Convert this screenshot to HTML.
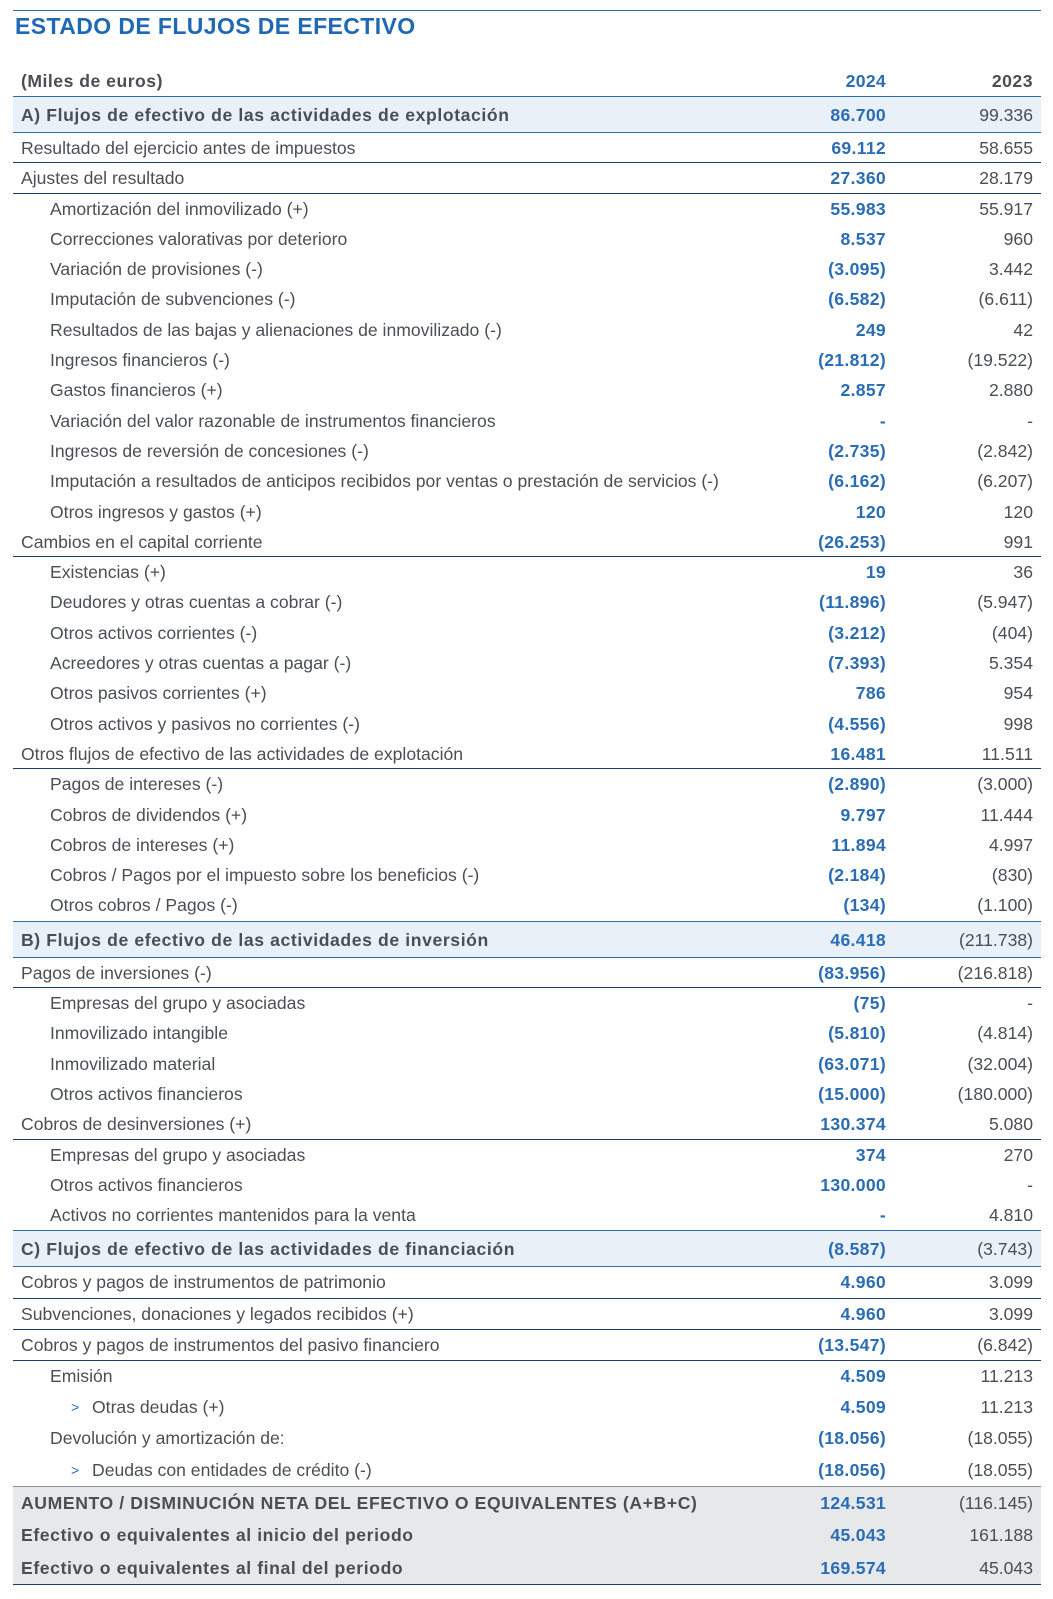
<!DOCTYPE html>
<html><head><meta charset="utf-8"><style>
body{margin:0;width:1053px;height:1599px;background:#fff;font-family:"Liberation Sans",sans-serif;color:#4a4f55;overflow:hidden;position:relative}
.top{position:absolute;left:13px;top:10px;width:1028px;border-top:1px solid #2a6db5}
h1{position:absolute;left:15px;top:13px;margin:0;font-size:23px;font-weight:bold;color:#1f68b3;letter-spacing:0.4px}
.tbl{position:absolute;left:13px;top:63px;width:1028px}
.r{position:relative;height:30.3px;font-size:17.6px;line-height:30.3px;box-sizing:border-box}
.r.c{height:31.2px;line-height:31.2px}
.r .l{position:absolute;left:8px;white-space:nowrap}
.r .a{position:absolute;right:155px;font-weight:bold;color:#2a6db5;letter-spacing:0.3px}
.r .b{position:absolute;right:8px;color:#4a4f55}
.h{height:33px;line-height:36px;font-weight:bold;letter-spacing:0.5px}
.h .b{font-weight:bold}
.s{height:37px;line-height:36px;background:#e9f0f8;border-top:1px solid #2a6db5;border-bottom:1px solid #2a6db5;font-weight:bold}
.s .l,.g .l{letter-spacing:0.6px}
.bb{border-bottom:1px solid #1f3a70}
.i1 .l{left:37px}
.i2 .l{left:79px}
.i2 .arr{position:absolute;left:58px;color:#2a6db5;font-size:14px}
.r.g{height:33px;line-height:33px;background:#e6e8ea;font-weight:bold}
.gt{border-top:1px solid #8a8f95}
.gb{border-bottom:1px solid #1f3a70}
</style></head><body>
<div class="top"></div>
<h1>ESTADO DE FLUJOS DE EFECTIVO</h1>
<div class="tbl">
<div class="r h"><span class="l">(Miles de euros)</span><span class="a">2024</span><span class="b">2023</span></div>
<div class="r s"><span class="l">A) Flujos de efectivo de las actividades de explotación</span><span class="a">86.700</span><span class="b" style="font-weight:normal">99.336</span></div>
<div class="r bb"><span class="l">Resultado del ejercicio antes de impuestos</span><span class="a">69.112</span><span class="b">58.655</span></div>
<div class="r bb"><span class="l">Ajustes del resultado</span><span class="a">27.360</span><span class="b">28.179</span></div>
<div class="r i1"><span class="l">Amortización del inmovilizado (+)</span><span class="a">55.983</span><span class="b">55.917</span></div>
<div class="r i1"><span class="l">Correcciones valorativas por deterioro</span><span class="a">8.537</span><span class="b">960</span></div>
<div class="r i1"><span class="l">Variación de provisiones (-)</span><span class="a">(3.095)</span><span class="b">3.442</span></div>
<div class="r i1"><span class="l">Imputación de subvenciones (-)</span><span class="a">(6.582)</span><span class="b">(6.611)</span></div>
<div class="r i1"><span class="l">Resultados de las bajas y alienaciones de inmovilizado (-)</span><span class="a">249</span><span class="b">42</span></div>
<div class="r i1"><span class="l">Ingresos financieros (-)</span><span class="a">(21.812)</span><span class="b">(19.522)</span></div>
<div class="r i1"><span class="l">Gastos financieros (+)</span><span class="a">2.857</span><span class="b">2.880</span></div>
<div class="r i1"><span class="l">Variación del valor razonable de instrumentos financieros</span><span class="a">-</span><span class="b">-</span></div>
<div class="r i1"><span class="l">Ingresos de reversión de concesiones (-)</span><span class="a">(2.735)</span><span class="b">(2.842)</span></div>
<div class="r i1"><span class="l">Imputación a resultados de anticipos recibidos por ventas o prestación de servicios (-)</span><span class="a">(6.162)</span><span class="b">(6.207)</span></div>
<div class="r i1"><span class="l">Otros ingresos y gastos (+)</span><span class="a">120</span><span class="b">120</span></div>
<div class="r bb"><span class="l">Cambios en el capital corriente</span><span class="a">(26.253)</span><span class="b">991</span></div>
<div class="r i1"><span class="l">Existencias (+)</span><span class="a">19</span><span class="b">36</span></div>
<div class="r i1"><span class="l">Deudores y otras cuentas a cobrar (-)</span><span class="a">(11.896)</span><span class="b">(5.947)</span></div>
<div class="r i1"><span class="l">Otros activos corrientes (-)</span><span class="a">(3.212)</span><span class="b">(404)</span></div>
<div class="r i1"><span class="l">Acreedores y otras cuentas a pagar (-)</span><span class="a">(7.393)</span><span class="b">5.354</span></div>
<div class="r i1"><span class="l">Otros pasivos corrientes (+)</span><span class="a">786</span><span class="b">954</span></div>
<div class="r i1"><span class="l">Otros activos y pasivos no corrientes (-)</span><span class="a">(4.556)</span><span class="b">998</span></div>
<div class="r bb"><span class="l">Otros flujos de efectivo de las actividades de explotación</span><span class="a">16.481</span><span class="b">11.511</span></div>
<div class="r i1"><span class="l">Pagos de intereses (-)</span><span class="a">(2.890)</span><span class="b">(3.000)</span></div>
<div class="r i1"><span class="l">Cobros de dividendos (+)</span><span class="a">9.797</span><span class="b">11.444</span></div>
<div class="r i1"><span class="l">Cobros de intereses (+)</span><span class="a">11.894</span><span class="b">4.997</span></div>
<div class="r i1"><span class="l">Cobros / Pagos por el impuesto sobre los beneficios (-)</span><span class="a">(2.184)</span><span class="b">(830)</span></div>
<div class="r i1"><span class="l">Otros cobros / Pagos (-)</span><span class="a">(134)</span><span class="b">(1.100)</span></div>
<div class="r s"><span class="l">B) Flujos de efectivo de las actividades de inversión</span><span class="a">46.418</span><span class="b" style="font-weight:normal">(211.738)</span></div>
<div class="r bb"><span class="l">Pagos de inversiones (-)</span><span class="a">(83.956)</span><span class="b">(216.818)</span></div>
<div class="r i1"><span class="l">Empresas del grupo y asociadas</span><span class="a">(75)</span><span class="b">-</span></div>
<div class="r i1"><span class="l">Inmovilizado intangible</span><span class="a">(5.810)</span><span class="b">(4.814)</span></div>
<div class="r i1"><span class="l">Inmovilizado material</span><span class="a">(63.071)</span><span class="b">(32.004)</span></div>
<div class="r i1"><span class="l">Otros activos financieros</span><span class="a">(15.000)</span><span class="b">(180.000)</span></div>
<div class="r bb"><span class="l">Cobros de desinversiones (+)</span><span class="a">130.374</span><span class="b">5.080</span></div>
<div class="r i1"><span class="l">Empresas del grupo y asociadas</span><span class="a">374</span><span class="b">270</span></div>
<div class="r i1"><span class="l">Otros activos financieros</span><span class="a">130.000</span><span class="b">-</span></div>
<div class="r i1"><span class="l">Activos no corrientes mantenidos para la venta</span><span class="a">-</span><span class="b">4.810</span></div>
<div class="r s"><span class="l">C) Flujos de efectivo de las actividades de financiación</span><span class="a">(8.587)</span><span class="b" style="font-weight:normal">(3.743)</span></div>
<div class="r c bb"><span class="l">Cobros y pagos de instrumentos de patrimonio</span><span class="a">4.960</span><span class="b">3.099</span></div>
<div class="r c bb"><span class="l">Subvenciones, donaciones y legados recibidos (+)</span><span class="a">4.960</span><span class="b">3.099</span></div>
<div class="r c bb"><span class="l">Cobros y pagos de instrumentos del pasivo financiero</span><span class="a">(13.547)</span><span class="b">(6.842)</span></div>
<div class="r c i1"><span class="l">Emisión</span><span class="a">4.509</span><span class="b">11.213</span></div>
<div class="r c i2"><span class="arr">&gt;</span><span class="l">Otras deudas (+)</span><span class="a">4.509</span><span class="b">11.213</span></div>
<div class="r c i1"><span class="l">Devolución y amortización de:</span><span class="a">(18.056)</span><span class="b">(18.055)</span></div>
<div class="r c i2"><span class="arr">&gt;</span><span class="l">Deudas con entidades de crédito (-)</span><span class="a">(18.056)</span><span class="b">(18.055)</span></div>
<div class="r g gt"><span class="l">AUMENTO / DISMINUCIÓN NETA DEL EFECTIVO O EQUIVALENTES (A+B+C)</span><span class="a">124.531</span><span class="b" style="font-weight:normal">(116.145)</span></div>
<div class="r g"><span class="l">Efectivo o equivalentes al inicio del periodo</span><span class="a">45.043</span><span class="b" style="font-weight:normal">161.188</span></div>
<div class="r g gb"><span class="l">Efectivo o equivalentes al final del periodo</span><span class="a">169.574</span><span class="b" style="font-weight:normal">45.043</span></div>
</div>
</body></html>
